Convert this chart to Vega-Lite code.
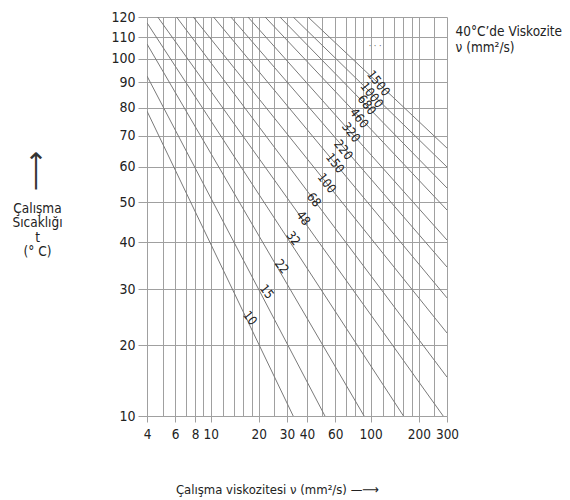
{
  "$schema": "https://vega.github.io/schema/vega-lite/v6.json",
  "autosize": {"type": "none"},
  "padding": {"left": 147, "top": 17, "right": 123, "bottom": 84},
  "width": 300,
  "height": 399,
  "background": "white",
  "config": {
    "font": "DejaVu Sans Condensed, Liberation Sans Narrow, sans-serif",
    "view": {"stroke": null},
    "axis": {
      "gridColor": "#a0a0a0", "gridWidth": 1, "gridOpacity": 1,
      "domainColor": "#a0a0a0", "tickColor": "#a0a0a0",
      "labelColor": "#222222", "labelFontSize": 15,
      "titleColor": "#222222", "titleFontSize": 14, "titleFontWeight": "normal"
    }
  },
  "layer": [
    {
      "data": {"values": [
        {"grade": "10", "nu": 4, "t": 78.7}, {"grade": "10", "nu": 32.8, "t": 10},
        {"grade": "15", "nu": 4, "t": 92.5}, {"grade": "15", "nu": 51.8, "t": 10},
        {"grade": "22", "nu": 4, "t": 106.7}, {"grade": "22", "nu": 91, "t": 10},
        {"grade": "32", "nu": 4, "t": 117}, {"grade": "32", "nu": 160.4, "t": 10},
        {"grade": "48", "nu": 4.67, "t": 120}, {"grade": "48", "nu": 284, "t": 10},
        {"grade": "68", "nu": 6.12, "t": 120}, {"grade": "68", "nu": 300, "t": 15.2},
        {"grade": "100", "nu": 7.78, "t": 120}, {"grade": "100", "nu": 300, "t": 22.04},
        {"grade": "150", "nu": 10.42, "t": 120}, {"grade": "150", "nu": 300, "t": 28.3},
        {"grade": "220", "nu": 13.37, "t": 120}, {"grade": "220", "nu": 300, "t": 34.5},
        {"grade": "320", "nu": 17.1, "t": 120}, {"grade": "320", "nu": 300, "t": 40.5},
        {"grade": "460", "nu": 21.9, "t": 120}, {"grade": "460", "nu": 300, "t": 47.9},
        {"grade": "680", "nu": 27.1, "t": 120}, {"grade": "680", "nu": 300, "t": 53.85},
        {"grade": "1000", "nu": 32.8, "t": 120}, {"grade": "1000", "nu": 300, "t": 59.97},
        {"grade": "1500", "nu": 40.6, "t": 120}, {"grade": "1500", "nu": 300, "t": 65.9}
      ]},
      "mark": {"type": "line", "color": "#7a7a7a", "strokeWidth": 1, "clip": true},
      "encoding": {
        "x": {
          "field": "nu", "type": "quantitative",
          "scale": {"type": "log", "domain": [4, 300], "nice": false},
          "axis": {
            "orient": "bottom",
            "values": [4, 6, 8, 10, 20, 30, 40, 60, 100, 200, 300],
            "format": "d", "grid": false, "tickSize": 6, "labelPadding": 5,
            "labelOverlap": false, "labelFlush": false, "labelFontSize": 13.5,
            "title": "Çalışma viskozitesi ν (mm²/s)    —⟶",
            "titleFontSize": 13,
            "titleAlign": "center", "titleBaseline": "alphabetic",
            "titleX": 130, "titleY": 77
          }
        },
        "y": {
          "field": "t", "type": "quantitative",
          "scale": {"type": "symlog", "constant": 25, "domain": [10, 120], "nice": false},
          "axis": {
            "orient": "left",
            "values": [10, 20, 30, 40, 50, 60, 70, 80, 90, 100, 110, 120],
            "format": "d", "grid": true, "tickSize": 9, "labelPadding": 3,
            "labelFontSize": 14,
            "title": ["Çalışma", "Sıcaklığı", "t", "(° C)"],
            "titleAngle": 0, "titleAlign": "center", "titleBaseline": "alphabetic",
            "titleX": -110, "titleY": 195, "titleLineHeight": 14.5, "titleFontSize": 13.5
          }
        },
        "detail": {"field": "grade", "type": "nominal"}
      }
    },
    {
      "data": {"values": [
        {"label": "10", "nu": 17.6, "t": 24.6},
        {"label": "15", "nu": 22.4, "t": 29.5},
        {"label": "22", "nu": 27.8, "t": 34.6},
        {"label": "32", "nu": 32.8, "t": 40.9},
        {"label": "48", "nu": 37.9, "t": 45.8},
        {"label": "68", "nu": 44.2, "t": 50.6},
        {"label": "100", "nu": 53.1, "t": 55.2},
        {"label": "150", "nu": 59.9, "t": 61.1},
        {"label": "220", "nu": 67.5, "t": 65.3},
        {"label": "320", "nu": 75.4, "t": 71.1},
        {"label": "460", "nu": 84.7, "t": 76.1},
        {"label": "680", "nu": 94.6, "t": 81.0},
        {"label": "1000", "nu": 101.7, "t": 84.8},
        {"label": "1500", "nu": 111.8, "t": 89.5}
      ]},
      "mark": {"type": "text", "angle": 52, "fontSize": 12.5, "color": "#222222", "align": "center", "baseline": "middle"},
      "encoding": {
        "x": {
          "field": "nu", "type": "quantitative",
          "axis": {
            "orient": "top",
            "values": [4, 5, 6, 7, 8, 9, 10, 12, 14, 16, 18, 20, 25, 30, 40, 50, 60, 70, 80, 90, 100, 120, 140, 160, 180, 200, 250, 300],
            "grid": true, "labels": false, "ticks": false, "domain": false,
            "title": "⟶", "titleAngle": -90, "titleAlign": "center", "titleBaseline": "middle",
            "titleX": -111, "titleY": 153, "titleFont": "DejaVu Sans", "titleFontSize": 28,
            "titleFontWeight": 200, "titleColor": "#333333"
          }
        },
        "y": {
          "field": "t", "type": "quantitative",
          "axis": {
            "orient": "right", "grid": false, "labels": false, "ticks": false, "domain": false,
            "title": ["40°C’de Viskozite", "ν (mm²/s)"],
            "titleAngle": 0, "titleAlign": "left", "titleBaseline": "alphabetic",
            "titleX": 8, "titleY": 18, "titleLineHeight": 16, "titleFontSize": 13.5
          }
        },
        "text": {"field": "label", "type": "nominal"}
      }
    },
    {
      "data": {"values": [{"label": "·   ·   ·", "nu": 106.6, "t": 105.7}]},
      "mark": {"type": "text", "fontSize": 9, "color": "#666666", "align": "center", "baseline": "middle"},
      "encoding": {
        "x": {"field": "nu", "type": "quantitative", "axis": null},
        "y": {"field": "t", "type": "quantitative", "axis": null},
        "text": {"field": "label", "type": "nominal"}
      }
    }
  ],
  "resolve": {"axis": {"x": "independent", "y": "independent"}}
}
